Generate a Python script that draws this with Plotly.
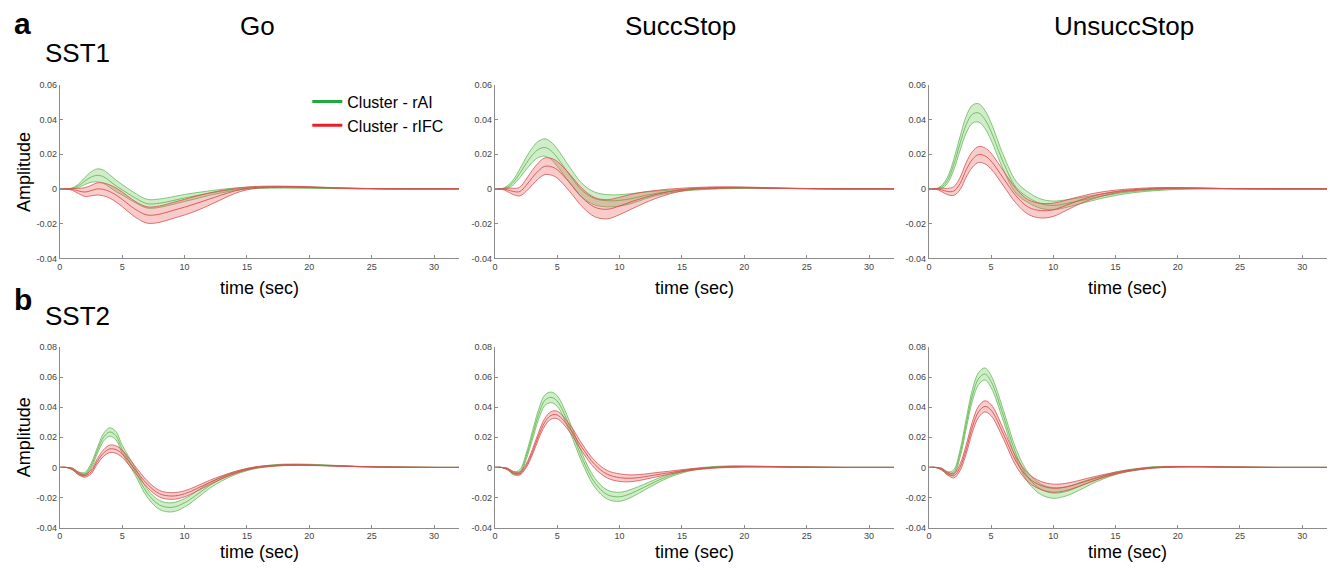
import plotly.graph_objects as go

# ---------------- data ----------------
time_s = [0, 0.5, 1, 1.5, 2, 2.5, 3, 3.5, 4, 4.5, 5,
          6, 7, 8, 9, 10, 11, 12, 13, 14, 15, 16,
          18, 20, 22, 24, 26, 28, 30, 32]

conditions = ["Go", "SuccStop", "UnsuccStop"]
sessions = ["SST1", "SST2"]
cluster_names = ["Cluster - rAI", "Cluster - rIFC"]

x_ticks = [0, 5, 10, 15, 20, 25, 30]
y_ticks_sst1 = [-0.04, -0.02, 0, 0.02, 0.04, 0.06]
y_tick_labels_sst1 = ["-0.04", "-0.02", "0", "0.02", "0.04", "0.06"]
y_ticks_sst2 = [-0.04, -0.02, 0, 0.02, 0.04, 0.06, 0.08]
y_tick_labels_sst2 = ["-0.04", "-0.02", "0", "0.02", "0.04", "0.06", "0.08"]

# SST1 - Go
sst1_go_rai_mean = [0, 0, 0.0003, 0.0018, 0.0045, 0.0068, 0.0078, 0.007, 0.0045, 0.0018, -0.0005,
                    -0.005, -0.0085, -0.0082, -0.0068, -0.0052, -0.0038, -0.0024, -0.0012, -0.0002, 0.0004, 0.0007,
                    0.0008, 0.0006, 0.0003, 0.0001, 0, 0, 0, 0]
sst1_go_rai_se = [0, 0, 0.0003, 0.001, 0.002, 0.003, 0.0037, 0.0038, 0.0036, 0.0033, 0.003,
                  0.0027, 0.0025, 0.0024, 0.0022, 0.002, 0.0017, 0.0013, 0.001, 0.0007, 0.0005, 0.0004,
                  0.0003, 0.0002, 0.0001, 0, 0, 0, 0, 0]
sst1_go_rifc_mean = [0, 0, -0.0003, -0.0012, -0.0018, -0.001, 0.0, -0.0003, -0.0015, -0.0035, -0.006,
                     -0.0115, -0.015, -0.0145, -0.0125, -0.0105, -0.0082, -0.0058, -0.0034, -0.0012, 0.0003, 0.001,
                     0.0013, 0.0011, 0.0006, 0.0003, 0.0001, 0, 0, 0]
sst1_go_rifc_se = [0, 0, 0.0005, 0.0015, 0.0025, 0.003, 0.0035, 0.0037, 0.0038, 0.004, 0.0042,
                   0.0045, 0.0047, 0.0047, 0.0046, 0.0045, 0.0042, 0.0035, 0.0025, 0.0015, 0.0008, 0.0005,
                   0.0003, 0.0002, 0.0001, 0, 0, 0, 0, 0]

# SST1 - SuccStop
sst1_succ_rai_mean = [0, 0, 0.001, 0.004, 0.009, 0.0145, 0.0195, 0.0228, 0.0238, 0.022, 0.018,
                      0.008, -0.001, -0.0055, -0.0068, -0.0066, -0.0055, -0.0038, -0.0025, -0.0015, -0.0008, -0.0003,
                      0.0003, 0.0005, 0.0004, 0.0002, 0.0001, 0, 0, 0]
sst1_succ_rai_se = [0, 0, 0.0008, 0.0015, 0.0025, 0.0035, 0.0042, 0.0047, 0.005, 0.005, 0.005,
                    0.0045, 0.004, 0.0037, 0.0035, 0.0033, 0.0028, 0.002, 0.0013, 0.0008, 0.0005, 0.0004,
                    0.0003, 0.0002, 0.0001, 0, 0, 0, 0, 0]
sst1_succ_rifc_mean = [0, 0, -0.0005, -0.0015, -0.0015, 0.002, 0.0065, 0.0105, 0.013, 0.0128, 0.011,
                       0.0035, -0.005, -0.0105, -0.0117, -0.0098, -0.0072, -0.0049, -0.003, -0.0015, -0.0004, 0.0003,
                       0.0008, 0.0008, 0.0005, 0.0003, 0.0001, 0, 0, 0]
sst1_succ_rifc_se = [0, 0, 0.001, 0.0018, 0.0025, 0.0035, 0.0042, 0.0046, 0.0048, 0.0048, 0.0048,
                     0.005, 0.0052, 0.0055, 0.0055, 0.005, 0.0042, 0.0032, 0.0022, 0.0014, 0.0008, 0.0005,
                     0.0004, 0.0003, 0.0002, 0.0001, 0, 0, 0, 0]

# SST1 - UnsuccStop
sst1_unsucc_rai_mean = [0, 0, 0.001, 0.005, 0.014, 0.026, 0.037, 0.043, 0.0437, 0.040, 0.033,
                        0.015, 0.001, -0.005, -0.0085, -0.0095, -0.0085, -0.007, -0.0055, -0.004, -0.0028, -0.0018,
                        -0.0006, 0, 0.0002, 0.0001, 0, 0, 0, 0]
sst1_unsucc_rai_se = [0, 0, 0.0008, 0.0018, 0.003, 0.004, 0.0048, 0.0052, 0.0053, 0.0052, 0.005,
                      0.0042, 0.0035, 0.003, 0.0027, 0.0025, 0.0022, 0.0018, 0.0015, 0.0012, 0.001, 0.0008,
                      0.0005, 0.0003, 0.0002, 0.0001, 0, 0, 0, 0]
sst1_unsucc_rifc_mean = [0, 0, -0.0005, -0.0015, -0.0012, 0.003, 0.011, 0.017, 0.0198, 0.019, 0.016,
                         0.006, -0.004, -0.0105, -0.0125, -0.012, -0.0095, -0.0068, -0.0045, -0.0028, -0.0015, -0.0007,
                         0.0003, 0.0006, 0.0004, 0.0002, 0.0001, 0, 0, 0]
sst1_unsucc_rifc_se = [0, 0, 0.001, 0.0018, 0.0025, 0.0035, 0.0042, 0.0045, 0.0046, 0.0046, 0.0045,
                       0.0043, 0.0042, 0.0042, 0.0042, 0.0038, 0.003, 0.0022, 0.0016, 0.0012, 0.0008, 0.0006,
                       0.0004, 0.0002, 0.0001, 0, 0, 0, 0, 0]

# SST2 - Go
sst2_go_rai_mean = [0, 0, -0.001, -0.004, -0.0045, 0.001, 0.011, 0.020, 0.0235, 0.021, 0.012,
                    -0.002, -0.017, -0.025, -0.0265, -0.0235, -0.018, -0.012, -0.0075, -0.004, -0.0015, 0.0002,
                    0.0018, 0.0018, 0.0012, 0.0006, 0.0003, 0.0001, 0, 0]
sst2_go_rai_se = [0, 0, 0.0005, 0.001, 0.0012, 0.0015, 0.002, 0.0025, 0.0028, 0.0028, 0.0027,
                  0.0025, 0.0027, 0.003, 0.003, 0.0028, 0.0024, 0.0019, 0.0014, 0.001, 0.0007, 0.0005,
                  0.0004, 0.0003, 0.0002, 0.0001, 0, 0, 0, 0]
sst2_go_rifc_mean = [0, 0, -0.001, -0.004, -0.0055, -0.003, 0.004, 0.0095, 0.0123, 0.0118, 0.009,
                     -0.001, -0.011, -0.0175, -0.019, -0.0175, -0.014, -0.01, -0.0065, -0.0035, -0.0012, 0.0003,
                     0.0015, 0.0015, 0.001, 0.0005, 0.0002, 0.0001, 0, 0]
sst2_go_rifc_se = [0, 0, 0.0005, 0.0008, 0.001, 0.0013, 0.0018, 0.0022, 0.0025, 0.0025, 0.0024,
                   0.0022, 0.0022, 0.0022, 0.0022, 0.002, 0.0017, 0.0014, 0.001, 0.0007, 0.0005, 0.0004,
                   0.0003, 0.0002, 0.0001, 0, 0, 0, 0, 0]

# SST2 - SuccStop
sst2_succ_rai_mean = [0, 0, -0.001, -0.004, -0.003, 0.007, 0.021, 0.035, 0.0445, 0.0465, 0.044,
                      0.027, 0.006, -0.01, -0.018, -0.0195, -0.017, -0.013, -0.009, -0.0055, -0.003, -0.0012,
                      0.0005, 0.0008, 0.0006, 0.0003, 0.0001, 0, 0, 0]
sst2_succ_rai_se = [0, 0, 0.0005, 0.001, 0.0015, 0.002, 0.0028, 0.0033, 0.0035, 0.0035, 0.0035,
                    0.0033, 0.003, 0.003, 0.003, 0.003, 0.0026, 0.002, 0.0015, 0.001, 0.0007, 0.0005,
                    0.0003, 0.0002, 0.0001, 0, 0, 0, 0, 0]
sst2_succ_rifc_mean = [0, 0, -0.001, -0.0035, -0.004, 0.001, 0.01, 0.021, 0.03, 0.0345, 0.0348,
                       0.026, 0.013, 0.002, -0.0045, -0.0068, -0.0072, -0.0062, -0.0048, -0.0035, -0.0022, -0.0012,
                       0.0, 0.0004, 0.0004, 0.0002, 0.0001, 0, 0, 0]
sst2_succ_rifc_se = [0, 0, 0.0005, 0.0008, 0.001, 0.0013, 0.0018, 0.0022, 0.0025, 0.0025, 0.0025,
                     0.0025, 0.0025, 0.0025, 0.0025, 0.0025, 0.0022, 0.0018, 0.0014, 0.001, 0.0007, 0.0005,
                     0.0003, 0.0002, 0.0001, 0, 0, 0, 0, 0]

# SST2 - UnsuccStop
sst2_unsucc_rai_mean = [0, 0, -0.001, -0.004, -0.003, 0.009, 0.029, 0.048, 0.059, 0.062, 0.057,
                        0.034, 0.009, -0.007, -0.0145, -0.017, -0.016, -0.013, -0.0095, -0.0065, -0.004, -0.0022,
                        0.0, 0.0005, 0.0005, 0.0003, 0.0001, 0, 0, 0]
sst2_unsucc_rai_se = [0, 0, 0.0005, 0.001, 0.0015, 0.0025, 0.0033, 0.0038, 0.004, 0.004, 0.004,
                      0.0037, 0.0033, 0.0033, 0.0035, 0.0035, 0.003, 0.0025, 0.0018, 0.0012, 0.0008, 0.0006,
                      0.0004, 0.0002, 0.0001, 0, 0, 0, 0, 0]
sst2_unsucc_rifc_mean = [0, 0, -0.001, -0.004, -0.0055, 0.0, 0.012, 0.027, 0.037, 0.0405, 0.038,
                         0.022, 0.004, -0.007, -0.012, -0.0138, -0.013, -0.0108, -0.0082, -0.0058, -0.0038, -0.0022,
                         -0.0002, 0.0004, 0.0004, 0.0002, 0.0001, 0, 0, 0]
sst2_unsucc_rifc_se = [0, 0, 0.0005, 0.001, 0.0015, 0.0022, 0.003, 0.0035, 0.0037, 0.0037, 0.0037,
                       0.0033, 0.003, 0.0028, 0.0027, 0.0027, 0.0024, 0.002, 0.0015, 0.001, 0.0007, 0.0005,
                       0.0003, 0.0002, 0.0001, 0, 0, 0, 0, 0]

# ---------------- layout constants ----------------
W, H = 1330, 570
FONT = "Liberation Sans, Arial, Helvetica, sans-serif"

GREEN_LINE = "rgb(105,185,90)"
GREEN_FILL = "rgba(110,200,90,0.33)"
RED_LINE = "rgb(215,80,80)"
RED_FILL = "rgba(235,85,85,0.30)"
LEGEND_GREEN = "rgb(30,170,60)"
LEGEND_RED = "rgb(235,30,35)"

col_px = [(57, 457), (493, 893), (928, 1327)]
row_px = [(81, 258), (348, 532)]

panels = [
    (0, 0, sst1_go_rai_mean, sst1_go_rai_se, sst1_go_rifc_mean, sst1_go_rifc_se),
    (0, 1, sst1_succ_rai_mean, sst1_succ_rai_se, sst1_succ_rifc_mean, sst1_succ_rifc_se),
    (0, 2, sst1_unsucc_rai_mean, sst1_unsucc_rai_se, sst1_unsucc_rifc_mean, sst1_unsucc_rifc_se),
    (1, 0, sst2_go_rai_mean, sst2_go_rai_se, sst2_go_rifc_mean, sst2_go_rifc_se),
    (1, 1, sst2_succ_rai_mean, sst2_succ_rai_se, sst2_succ_rifc_mean, sst2_succ_rifc_se),
    (1, 2, sst2_unsucc_rai_mean, sst2_unsucc_rai_se, sst2_unsucc_rifc_mean, sst2_unsucc_rifc_se),
]

fig = go.Figure()
layout_axes = {}

for k, (r, c, g_mean, g_se, r_mean, r_se) in enumerate(panels, start=1):
    xa = "x" if k == 1 else f"x{k}"
    ya = "y" if k == 1 else f"y{k}"
    for mean, se, lc, fc in ((g_mean, g_se, GREEN_LINE, GREEN_FILL),
                             (r_mean, r_se, RED_LINE, RED_FILL)):
        upper = [m + s for m, s in zip(mean, se)]
        lower = [m - s for m, s in zip(mean, se)]
        fig.add_trace(go.Scatter(x=time_s, y=upper, mode="lines", xaxis=xa, yaxis=ya,
                                 line=dict(color=lc, width=0.8, shape="spline"),
                                 showlegend=False, hoverinfo="skip"))
        fig.add_trace(go.Scatter(x=time_s, y=lower, mode="lines", xaxis=xa, yaxis=ya,
                                 line=dict(color=lc, width=0.8, shape="spline"),
                                 fill="tonexty", fillcolor=fc,
                                 showlegend=False, hoverinfo="skip"))
        fig.add_trace(go.Scatter(x=time_s, y=mean, mode="lines", xaxis=xa, yaxis=ya,
                                 line=dict(color=lc, width=0.9, shape="spline"),
                                 showlegend=False))

    x0, x1 = col_px[c]
    y0, y1 = row_px[r]
    if r == 0:
        yt, ytl, yr = y_ticks_sst1, y_tick_labels_sst1, [-0.04, 0.06]
    else:
        yt, ytl, yr = y_ticks_sst2, y_tick_labels_sst2, [-0.04, 0.08]
    axis_common = dict(showgrid=False, zeroline=False, showline=True, linecolor="#8c8c8c",
                       linewidth=1, ticks="inside", ticklen=3, tickcolor="#8c8c8c",
                       tickfont=dict(family=FONT, size=9, color="#444444"))
    layout_axes["xaxis" if k == 1 else f"xaxis{k}"] = dict(
        domain=[x0 / W, x1 / W], range=[0, 32], tickvals=x_ticks,
        anchor=ya, **axis_common)
    layout_axes["yaxis" if k == 1 else f"yaxis{k}"] = dict(
        domain=[1 - y1 / H, 1 - y0 / H], range=yr, tickvals=yt, ticktext=ytl,
        anchor=xa, **axis_common)

# legend entries
fig.add_trace(go.Scatter(x=[None], y=[None], mode="lines", name=cluster_names[0],
                         line=dict(color=LEGEND_GREEN, width=3), showlegend=True))
fig.add_trace(go.Scatter(x=[None], y=[None], mode="lines", name=cluster_names[1],
                         line=dict(color=LEGEND_RED, width=3), showlegend=True))

annotations = []


def px_annot(text, x, y, size, bold=False, angle=0):
    annotations.append(dict(
        text=f"<b>{text}</b>" if bold else text, x=x / W, y=1 - y / H,
        xref="paper", yref="paper", xanchor="center", yanchor="middle",
        showarrow=False, textangle=angle,
        font=dict(family=FONT, size=size, color="black")))


px_annot("a", 20, 19, 30, bold=True)
px_annot("b", 20, 300, 30, bold=True)
px_annot(sessions[0], 75, 49, 26)
px_annot(sessions[1], 75, 317, 26)
for c, name in enumerate(conditions):
    cx = [255, 679, 1124][c]
    px_annot(name, cx, 21, 26)
    mid = (col_px[c][0] + col_px[c][1]) / 2
    px_annot("time (sec)", mid, 288, 18)
    px_annot("time (sec)", mid, 557, 18)
px_annot("Amplitude", 21, 170, 18, angle=-90)
px_annot("Amplitude", 21, 440, 18, angle=-90)

fig.update_layout(
    width=W, height=H,
    margin=dict(l=0, r=0, t=0, b=0),
    paper_bgcolor="white", plot_bgcolor="white",
    annotations=annotations,
    legend=dict(x=305 / W, y=1 - 81 / H, xanchor="left", yanchor="top",
                traceorder="normal",
                bgcolor="rgba(0,0,0,0)", font=dict(family=FONT, size=16, color="black"),
                tracegroupgap=0, itemwidth=30),
    font=dict(family=FONT),
    **layout_axes,
)

fig.write_html("out.html")
